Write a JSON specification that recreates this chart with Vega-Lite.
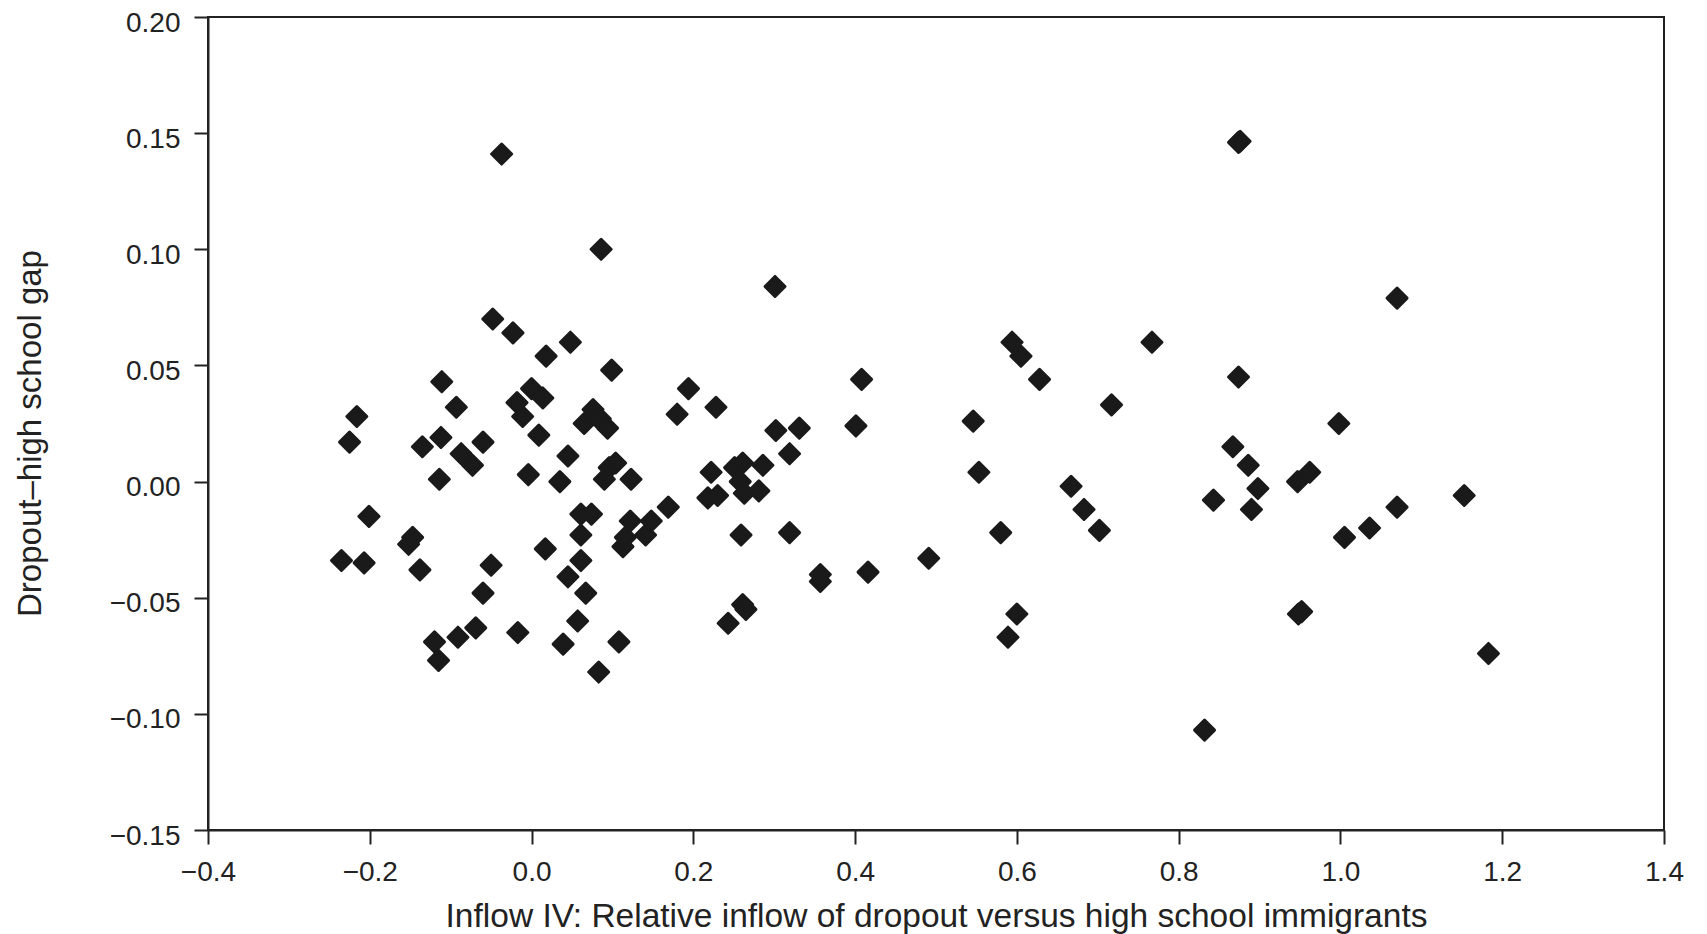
{
  "$schema": "https://vega.github.io/schema/vega-lite/v6.json",
  "width": 1456,
  "height": 813,
  "autosize": {"type": "none"},
  "padding": {"left": 208, "top": 17, "right": 43, "bottom": 104},
  "background": "white",
  "config": {
    "font": "Liberation Sans",
    "view": {"stroke": "#222222", "strokeWidth": 2}
  },
  "data": {
    "values": [
      {"x": -0.235, "y": -0.034}, {"x": -0.225, "y": 0.017}, {"x": -0.216, "y": 0.028}, {"x": -0.207, "y": -0.035},
      {"x": -0.201, "y": -0.015}, {"x": -0.152, "y": -0.027}, {"x": -0.147, "y": -0.024}, {"x": -0.138, "y": -0.038},
      {"x": -0.135, "y": 0.015}, {"x": -0.120, "y": -0.069}, {"x": -0.115, "y": -0.077}, {"x": -0.114, "y": 0.001},
      {"x": -0.112, "y": 0.019}, {"x": -0.111, "y": 0.043}, {"x": -0.093, "y": 0.032}, {"x": -0.091, "y": -0.067},
      {"x": -0.087, "y": 0.012}, {"x": -0.073, "y": 0.007}, {"x": -0.069, "y": -0.063}, {"x": -0.060, "y": 0.017},
      {"x": -0.060, "y": -0.048}, {"x": -0.050, "y": -0.036}, {"x": -0.048, "y": 0.070}, {"x": -0.037, "y": 0.141},
      {"x": -0.023, "y": 0.064}, {"x": -0.018, "y": 0.034}, {"x": -0.017, "y": -0.065}, {"x": -0.011, "y": 0.028},
      {"x": -0.004, "y": 0.003}, {"x": 0.000, "y": 0.040}, {"x": 0.009, "y": 0.020}, {"x": 0.014, "y": 0.036},
      {"x": 0.017, "y": -0.029}, {"x": 0.018, "y": 0.054}, {"x": 0.035, "y": 0.000}, {"x": 0.039, "y": -0.070},
      {"x": 0.045, "y": 0.011}, {"x": 0.045, "y": -0.041}, {"x": 0.048, "y": 0.060}, {"x": 0.057, "y": -0.060},
      {"x": 0.061, "y": -0.034}, {"x": 0.061, "y": -0.014}, {"x": 0.061, "y": -0.023}, {"x": 0.067, "y": -0.048},
      {"x": 0.065, "y": 0.025}, {"x": 0.074, "y": -0.014}, {"x": 0.076, "y": 0.031}, {"x": 0.080, "y": 0.028},
      {"x": 0.083, "y": -0.082}, {"x": 0.086, "y": 0.100}, {"x": 0.085, "y": 0.027}, {"x": 0.090, "y": 0.001},
      {"x": 0.094, "y": 0.023}, {"x": 0.096, "y": 0.006}, {"x": 0.099, "y": 0.048}, {"x": 0.104, "y": 0.008},
      {"x": 0.108, "y": -0.069}, {"x": 0.113, "y": -0.028}, {"x": 0.116, "y": -0.024}, {"x": 0.123, "y": 0.001},
      {"x": 0.122, "y": -0.017}, {"x": 0.141, "y": -0.023}, {"x": 0.148, "y": -0.017}, {"x": 0.169, "y": -0.011},
      {"x": 0.180, "y": 0.029}, {"x": 0.194, "y": 0.040}, {"x": 0.218, "y": -0.007}, {"x": 0.222, "y": 0.004},
      {"x": 0.228, "y": 0.032}, {"x": 0.230, "y": -0.006}, {"x": 0.243, "y": -0.061}, {"x": 0.251, "y": 0.006},
      {"x": 0.258, "y": 0.000}, {"x": 0.259, "y": -0.023}, {"x": 0.261, "y": 0.008}, {"x": 0.263, "y": -0.005},
      {"x": 0.261, "y": -0.053}, {"x": 0.265, "y": -0.055}, {"x": 0.281, "y": -0.004}, {"x": 0.286, "y": 0.007},
      {"x": 0.301, "y": 0.084}, {"x": 0.302, "y": 0.022}, {"x": 0.319, "y": -0.022}, {"x": 0.319, "y": 0.012},
      {"x": 0.331, "y": 0.023}, {"x": 0.357, "y": -0.043}, {"x": 0.357, "y": -0.040}, {"x": 0.401, "y": 0.024},
      {"x": 0.408, "y": 0.044}, {"x": 0.416, "y": -0.039}, {"x": 0.491, "y": -0.033}, {"x": 0.546, "y": 0.026},
      {"x": 0.553, "y": 0.004}, {"x": 0.580, "y": -0.022}, {"x": 0.589, "y": -0.067}, {"x": 0.594, "y": 0.060},
      {"x": 0.600, "y": -0.057}, {"x": 0.605, "y": 0.054}, {"x": 0.628, "y": 0.044}, {"x": 0.667, "y": -0.002},
      {"x": 0.683, "y": -0.012}, {"x": 0.702, "y": -0.021}, {"x": 0.717, "y": 0.033}, {"x": 0.767, "y": 0.060},
      {"x": 0.832, "y": -0.107}, {"x": 0.843, "y": -0.008}, {"x": 0.867, "y": 0.015}, {"x": 0.874, "y": 0.045},
      {"x": 0.874, "y": 0.146}, {"x": 0.876, "y": 0.1465}, {"x": 0.886, "y": 0.007}, {"x": 0.890, "y": -0.012}, {"x": 0.898, "y": -0.003},
      {"x": 0.947, "y": 0.000}, {"x": 0.948, "y": -0.057}, {"x": 0.952, "y": -0.056}, {"x": 0.962, "y": 0.004},
      {"x": 0.998, "y": 0.025}, {"x": 1.005, "y": -0.024}, {"x": 1.036, "y": -0.020}, {"x": 1.070, "y": 0.079},
      {"x": 1.070, "y": -0.011}, {"x": 1.153, "y": -0.006}, {"x": 1.183, "y": -0.074}
    ]
  },
  "mark": {"type": "point", "shape": "diamond", "filled": true, "size": 400, "color": "#1a1a1a", "stroke": "#1a1a1a", "strokeWidth": 3, "strokeJoin": "round", "opacity": 1},
  "encoding": {
    "x": {
      "field": "x", "type": "quantitative",
      "scale": {"domain": [-0.4, 1.4], "nice": false, "zero": false},
      "axis": {
        "title": "Inflow IV: Relative inflow of dropout versus high school immigrants",
        "values": [-0.4, -0.2, 0, 0.2, 0.4, 0.6, 0.8, 1.0, 1.2, 1.4],
        "format": ".1f",
        "grid": false,
        "domainColor": "#222222", "domainWidth": 2,
        "tickColor": "#222222", "tickWidth": 2, "tickSize": 14,
        "labelFontSize": 28, "labelColor": "#222222", "labelPadding": 14,
        "labelFlush": false, "labelOverlap": false,
        "titleFontSize": 33.5, "titleFontWeight": "normal", "titleColor": "#222222",
        "titleBaseline": "alphabetic", "titleY": 96
      }
    },
    "y": {
      "field": "y", "type": "quantitative",
      "scale": {"domain": [-0.15, 0.2], "nice": false, "zero": false},
      "axis": {
        "title": "Dropout–high school gap",
        "values": [-0.15, -0.1, -0.05, 0, 0.05, 0.1, 0.15, 0.2],
        "format": ".2f",
        "grid": false,
        "domainColor": "#222222", "domainWidth": 2,
        "tickColor": "#222222", "tickWidth": 2, "tickSize": 14,
        "labelFontSize": 28, "labelColor": "#222222", "labelPadding": 14,
        "labelBaseline": "alphabetic", "labelOffset": 14,
        "labelFlush": false, "labelOverlap": false,
        "titleFontSize": 33, "titleFontWeight": "normal", "titleColor": "#222222",
        "titleBaseline": "alphabetic", "titleAngle": -90, "titleAlign": "center",
        "titleX": -168, "titleY": 416
      }
    }
  }
}
